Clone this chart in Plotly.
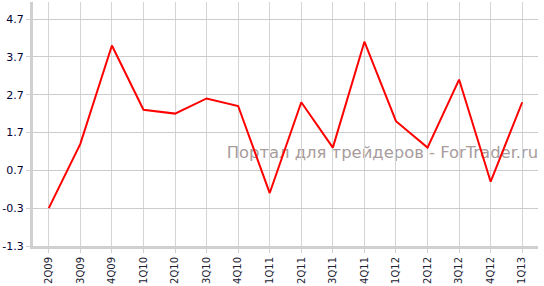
import plotly.graph_objects as go

quarters = ["2Q09", "3Q09", "4Q09", "1Q10", "2Q10", "3Q10", "4Q10", "1Q11",
            "2Q11", "3Q11", "4Q11", "1Q12", "2Q12", "3Q12", "4Q12", "1Q13"]
values = [-0.3, 1.4, 4.0, 2.3, 2.2, 2.6, 2.4, 0.1,
          2.5, 1.3, 4.1, 2.0, 1.3, 3.1, 0.4, 2.5]
y_ticks = [-1.3, -0.3, 0.7, 1.7, 2.7, 3.7, 4.7]
y_tick_text = ["-1.3", "-0.3", "0.7", "1.7", "2.7", "3.7", "4.7"]
watermark = "Портал для трейдеров - ForTrader.ru"

fig = go.Figure()
fig.add_trace(go.Scatter(
    x=list(range(len(quarters))), y=values, mode="lines",
    line=dict(color="#ff0000", width=2), hoverinfo="skip", showlegend=False,
))

fig.update_layout(
    width=544, height=286,
    margin=dict(l=33, r=6, t=2, b=38),
    paper_bgcolor="white", plot_bgcolor="white",
    font=dict(family="DejaVu Sans, Verdana, sans-serif", size=10, color="#000033"),
    xaxis=dict(
        range=[-0.5, len(quarters) - 0.5],
        tickmode="array", tickvals=list(range(len(quarters))), ticktext=quarters,
        tickangle=-90, showgrid=True, gridcolor="#d4d4d4", gridwidth=1,
        showline=True, linecolor="#d0d0d0", linewidth=3,
        ticks="outside", ticklen=4, tickcolor="#d0d0d0",
        tickfont=dict(size=10, color="#222233"), zeroline=False,
    ),
    yaxis=dict(
        range=[-1.3, 5.15],
        tickmode="array", tickvals=y_ticks, ticktext=y_tick_text,
        showgrid=True, gridcolor="#cccccc", gridwidth=1,
        showline=True, linecolor="#d0d0d0", linewidth=3,
        ticks="outside", ticklen=4, tickcolor="#d0d0d0",
        tickfont=dict(size=11, color="#000033"), zeroline=False,
    ),
    shapes=[dict(
        type="rect", xref="paper", yref="paper",
        x0=0.384, x1=1.0, y0=0.34, y1=0.44,
        line=dict(width=0), fillcolor="rgba(0,0,0,0)", layer="between",
        label=dict(text=watermark, textposition="middle center",
                   font=dict(family="DejaVu Sans, Verdana, sans-serif",
                             size=16.4, color="#a89c9c")),
    )],
)

fig.write_html("out.html")
